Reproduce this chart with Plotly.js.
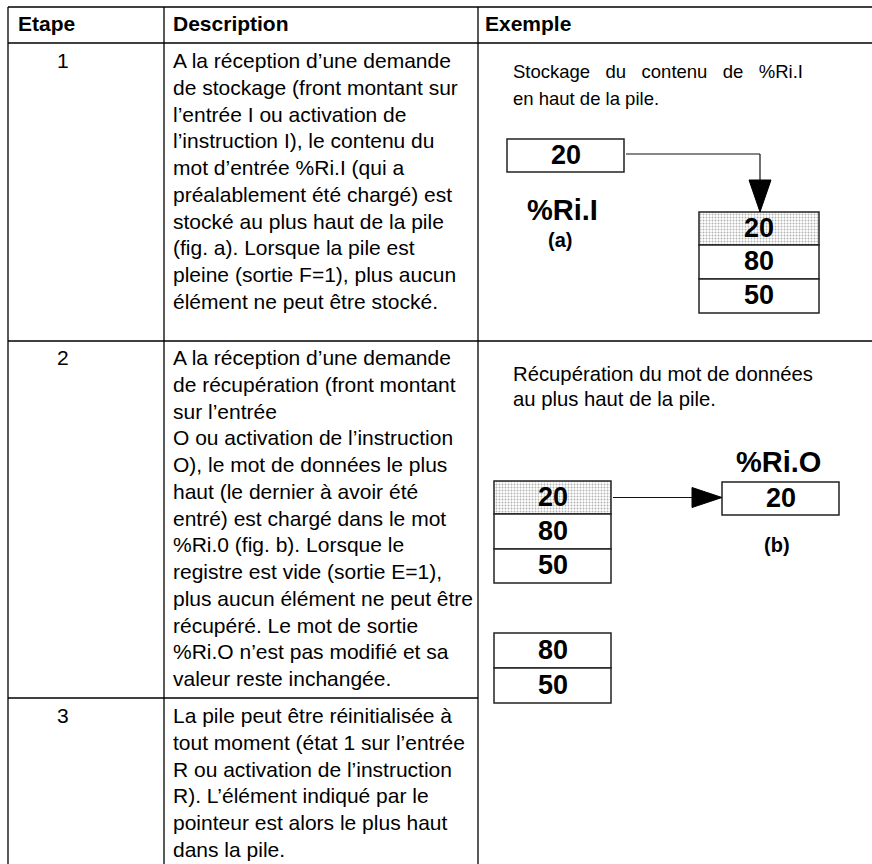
<!DOCTYPE html>
<html><head><meta charset="utf-8">
<script src="https://cdn.plot.ly/plotly-3.0.1.min.js"></script>
<style>html,body{margin:0;padding:0;background:#fff;}#chart{width:872px;height:864px;}</style>
</head><body><div id="chart"></div>
<script>
// ---------- data ----------
const headers = ['Etape', 'Description', 'Exemple'];
const steps = ['1', '2', '3'];
const descStep1 = [
  'A la réception d’une demande',
  'de stockage (front montant sur',
  'l’entrée I ou activation de',
  'l’instruction I), le contenu du',
  'mot d’entrée %Ri.I (qui a',
  'préalablement été chargé) est',
  'stocké au plus haut de la pile',
  '(fig. a). Lorsque la pile est',
  'pleine (sortie F=1), plus aucun',
  'élément ne peut être stocké.'
];
const descStep2 = [
  'A la réception d’une demande',
  'de récupération (front montant',
  'sur l’entrée',
  'O ou activation de l’instruction',
  'O), le mot de données le plus',
  'haut (le dernier à avoir été',
  'entré) est chargé dans le mot',
  '%Ri.0 (fig. b). Lorsque le',
  'registre est vide (sortie E=1),',
  'plus aucun élément ne peut être',
  'récupéré. Le mot de sortie',
  '%Ri.O n’est pas modifié et sa',
  'valeur reste inchangée.'
];
const descStep3 = [
  'La pile peut être réinitialisée à',
  'tout moment (état 1 sur l’entrée',
  'R ou activation de l’instruction',
  'R). L’élément indiqué par le',
  'pointeur est alors le plus haut',
  'dans la pile.'
];
const captionA = ['Stockage du contenu de %Ri.I', 'en haut de la pile.'];
const captionB = ['Récupération du mot de données', 'au plus haut de la pile.'];
const inputWordA = [20];
const labelA = ['%Ri.I', '(a)'];
const stackA = [20, 80, 50];
const stackAHighlight = [true, false, false];
const stackB = [20, 80, 50];
const stackBHighlight = [true, false, false];
const outputWordB = [20];
const labelB = ['%Ri.O', '(b)'];
const stackAfter = [80, 50];
const stackAfterHighlight = [false, false];

// ---------- layout helpers ----------
const W = 872, H = 864;
const FONT = 'Liberation Sans, Arial, Helvetica, sans-serif';
const ann = [];
const shapes = [];
function txt(x, baseline, text, size, anchor, bold) {
  ann.push({
    x: x, y: baseline - 0.35 * size, xref: 'x', yref: 'y',
    text: bold ? '<b>' + text + '</b>' : text,
    showarrow: false, xanchor: anchor || 'left', yanchor: 'middle',
    borderpad: 0,
    font: {family: FONT, size: size, color: '#000'}
  });
}
function line(x0, y0, x1, y1, color, width) {
  shapes.push({type: 'line', xref: 'x', yref: 'y', x0: x0, y0: y0, x1: x1, y1: y1,
    line: {color: color || '#000', width: width || 1.3}});
}
function tri(pts) {
  shapes.push({type: 'path', xref: 'x', yref: 'y',
    path: 'M ' + pts.map(p => p[0] + ' ' + p[1]).join(' L ') + ' Z',
    fillcolor: '#000', line: {color: '#000', width: 1}});
}

// ---------- table grid ----------
const colX = [8, 164, 478];
const rowY = [7, 43, 341, 698];
line(colX[0], rowY[0], W, rowY[0]);
line(colX[0], rowY[1], W, rowY[1]);
line(colX[0], rowY[2], W, rowY[2]);
line(colX[0], rowY[3], colX[2], rowY[3]);
colX.forEach(x => line(x, rowY[0], x, H));

// headers
const headerX = [17, 172, 484];
headers.forEach((h, i) => txt(headerX[i], 31, h, 21, 'left', true));

// description text
const LH = 26.75;
const descs = [descStep1, descStep2, descStep3];
const firstBase = [68, 365, 723];
descs.forEach((lines, r) => {
  txt(63, firstBase[r], steps[r], 21, 'center', false);
  lines.forEach((s, i) => txt(172, firstBase[r] + i * LH, s, 21, 'left', false));
});

// captions
const wide = s => s.split(' ').join('\u00A0\u00A0\u00A0');
txt(512, 78, wide(captionA[0]), 18.5, 'left', false);
txt(512, 105, captionA[1], 18.5, 'left', false);
txt(512, 381, captionB[0], 20.3, 'left', false);
txt(512, 406, captionB[1], 20.3, 'left', false);

// ---------- cells (bars) ----------
const CELL_FS = 27;
const cellX = [], cellW = [], cellBase = [], cellH = [], cellColor = [], cellPat = [];
function addStack(values, hl, x0, x1, bounds) {
  values.forEach((v, i) => {
    const y0 = bounds[i], y1 = bounds[i + 1];
    cellX.push((x0 + x1) / 2); cellW.push(x1 - x0);
    cellBase.push(y0); cellH.push(y1 - y0);
    cellColor.push(hl[i] ? '#b4b4b4' : '#ffffff');
    cellPat.push(hl[i] ? '.' : '');
    const centre = (y0 + y1) / 2 - 1;
    txt((x0 + x1) / 2, centre + 0.35 * CELL_FS, String(v), CELL_FS, 'center', true);
  });
}
const boxA = {x0: 507, x1: 624, b: [139, 172]};
const stA = {x0: 699, x1: 819, b: [212, 245, 279, 313]};
const stB = {x0: 494, x1: 611, b: [481, 514, 549, 583]};
const boxB = {x0: 722, x1: 839, b: [482, 515]};
const stC = {x0: 494, x1: 611, b: [633, 668, 703]};
addStack(inputWordA, [false], boxA.x0, boxA.x1, boxA.b);
addStack(stackA, stackAHighlight, stA.x0, stA.x1, stA.b);
addStack(stackB, stackBHighlight, stB.x0, stB.x1, stB.b);
addStack(outputWordB, [false], boxB.x0, boxB.x1, boxB.b);
addStack(stackAfter, stackAfterHighlight, stC.x0, stC.x1, stC.b);

// labels
txt(562, 220, labelA[0], 29, 'center', true);
txt(560, 247, labelA[1], 20, 'center', true);
txt(778, 472, labelB[0], 29, 'center', true);
txt(777, 552, labelB[1], 20, 'center', true);

// arrows
const aY = 154, aX = (stA.x0 + stA.x1) / 2 + 1;
line(boxA.x1 + 2, aY, aX, aY, '#111', 1.2);
line(aX, aY, aX, stA.b[0] - 32, '#111', 1.2);
tri([[aX - 11, stA.b[0] - 32], [aX + 11, stA.b[0] - 32], [aX, stA.b[0]]]);
const bY = (stB.b[0] + stB.b[1]) / 2;
line(stB.x1 + 2, bY, boxB.x0 - 30, bY, '#111', 1.2);
tri([[boxB.x0 - 30, bY - 10], [boxB.x0 - 30, bY + 10], [boxB.x0, bY]]);

const cells = {
  type: 'bar', x: cellX, y: cellH, base: cellBase, width: cellW,
  orientation: 'v', hoverinfo: 'skip', showlegend: false,
  marker: {
    color: cellColor,
    line: {color: '#222', width: 1.5},
    pattern: {shape: cellPat, fgcolor: '#ffffff', size: 3, solidity: 0.35}
  }
};

const layout = {
  width: W, height: H,
  margin: {l: 0, r: 0, t: 0, b: 0, pad: 0},
  paper_bgcolor: '#fff', plot_bgcolor: '#fff',
  xaxis: {range: [0, W], visible: false, fixedrange: true},
  yaxis: {range: [H, 0], visible: false, fixedrange: true},
  barmode: 'overlay', showlegend: false,
  shapes: shapes, annotations: ann
};
Plotly.newPlot('chart', [cells], layout, {displayModeBar: false, staticPlot: true});
</script></body></html>
